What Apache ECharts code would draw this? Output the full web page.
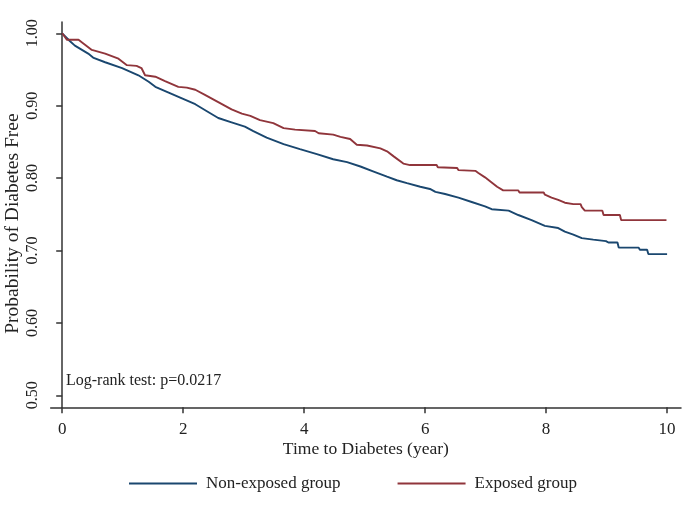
<!DOCTYPE html>
<html>
<head>
<meta charset="utf-8">
<script src="https://cdn.jsdelivr.net/npm/echarts@6/dist/echarts.min.js"></script>
<style>html,body{margin:0;padding:0;background:#fff}#c{width:700px;height:528px}</style>
</head>
<body>
<div id="c"></div>
<script>
// Kaplan-Meier estimates: [time (year), survival]
const nonExposed = [
 [0,1.0],[0.13,0.989],[0.21,0.983],[0.43,0.972],[0.52,0.966],[0.71,0.960],[0.99,0.952],
 [1.26,0.942],[1.43,0.933],[1.54,0.926],[1.76,0.918],[1.98,0.910],[2.20,0.902],[2.42,0.891],
 [2.58,0.883],[2.80,0.877],[3.02,0.871],[3.16,0.865],[3.38,0.856],[3.66,0.847],[3.93,0.840],
 [4.21,0.833],[4.48,0.826],[4.71,0.822],[4.93,0.816],[5.15,0.809],[5.37,0.802],[5.53,0.797],
 [5.70,0.793],[5.92,0.788],[6.08,0.785],[6.17,0.781],[6.33,0.778],[6.55,0.773],[6.77,0.767],
 [6.99,0.761],[7.10,0.757],[7.38,0.755],[7.54,0.749],[7.76,0.742],[7.98,0.734],[8.20,0.731],
 [8.31,0.726],[8.45,0.722],[8.59,0.717],[8.78,0.715],[8.99,0.713],[9.03,0.711],[9.18,0.711],
 [9.20,0.704],[9.53,0.704],[9.55,0.701],[9.67,0.701],[9.69,0.695],[10.0,0.695]
];
const exposed = [
 [0,1.0],[0.08,0.991],[0.27,0.991],[0.35,0.986],[0.49,0.977],[0.71,0.972],[0.93,0.965],
 [1.07,0.956],[1.23,0.955],[1.31,0.952],[1.37,0.942],[1.54,0.940],[1.70,0.934],[1.92,0.926],
 [2.06,0.925],[2.20,0.922],[2.36,0.915],[2.58,0.905],[2.80,0.895],[2.97,0.889],[3.00,0.887],
 [3.11,0.886],[3.27,0.880],[3.49,0.876],[3.66,0.869],[3.85,0.867],[3.88,0.865],[4.18,0.865],
 [4.24,0.862],[4.48,0.860],[4.60,0.857],[4.76,0.854],[4.87,0.846],[5.04,0.845],[5.26,0.841],
 [5.37,0.837],[5.48,0.830],[5.64,0.820],[5.75,0.818],[6.19,0.818],[6.21,0.815],[6.53,0.814],
 [6.55,0.811],[6.83,0.810],[6.88,0.807],[6.99,0.801],[7.10,0.794],[7.19,0.788],[7.29,0.783],
 [7.54,0.783],[7.56,0.780],[7.96,0.780],[7.98,0.777],[8.09,0.773],[8.20,0.770],[8.31,0.766],
 [8.45,0.764],[8.57,0.764],[8.59,0.760],[8.64,0.755],[8.93,0.755],[8.95,0.749],[9.22,0.749],
 [9.24,0.742],[9.99,0.742]
];
const xTicks = [0,2,4,6,8,10];
const yTicks = [0.5,0.6,0.7,0.8,0.9,1.0];
const seriesNames = ['Non-exposed group','Exposed group'];
const annotation = 'Log-rank test: p=0.0217';
const xTitle = 'Time to Diabetes (year)';
const yTitle = 'Probability of Diabetes Free';

const FONT = '"Liberation Serif","Times New Roman",serif';
const AX = '#333333';
const chart = echarts.init(document.getElementById('c'), null, {renderer:'canvas'});
chart.setOption({
  backgroundColor:'#ffffff',
  animation:false,
  grid:{left:50.7, right:19, top:22, bottom:120.7, containLabel:false, outerBoundsMode:'none'},
  xAxis:{
    type:'value', min:-0.19, max:10.23,
    name:xTitle, nameLocation:'middle', nameGap:33, nameMoveOverlap:false,
    nameTextStyle:{fontFamily:FONT, fontSize:17.5, color:'#222'},
    axisLine:{show:true, lineStyle:{color:AX, width:1.5}},
    axisTick:{show:true, length:6, customValues:xTicks, lineStyle:{color:AX, width:1.5}},
    axisLabel:{customValues:xTicks, margin:14, fontFamily:FONT, fontSize:17, color:'#222'},
    splitLine:{show:false}
  },
  yAxis:{
    type:'value', min:0.4834, max:1.0156,
    name:yTitle, nameLocation:'middle', nameGap:28, nameRotate:90, nameMoveOverlap:false,
    nameTextStyle:{fontFamily:FONT, fontSize:19.5, color:'#222', padding:[0,18,0,0]},
    axisLine:{show:true, lineStyle:{color:AX, width:1.5}},
    axisTick:{show:true, length:6, customValues:yTicks, lineStyle:{color:AX, width:1.5}},
    axisLabel:{customValues:yTicks, rotate:90, margin:10, align:'center', verticalAlign:'bottom',
      fontFamily:FONT, fontSize:16, color:'#222', formatter:v=>v.toFixed(2)},
    splitLine:{show:false}
  },
  legend:{
    left:129, top:475, padding:0, itemWidth:68, itemHeight:2, itemGap:57, icon:'rect',
    textStyle:{fontFamily:FONT, fontSize:17, color:'#222', padding:[0,0,0,4]},
    data:seriesNames
  },
  graphic:[{
    type:'text', left:66, top:373,
    style:{text:annotation, font:'16px "Liberation Serif", serif', fill:'#222'}
  }],
  series:[
    {name:seriesNames[0], type:'line', data:nonExposed, showSymbol:false, color:'#1a476f',
     lineStyle:{color:'#1a476f', width:1.9}},
    {name:seriesNames[1], type:'line', data:exposed, showSymbol:false, color:'#90353b',
     lineStyle:{color:'#90353b', width:1.9}}
  ]
});
</script>
</body>
</html>
